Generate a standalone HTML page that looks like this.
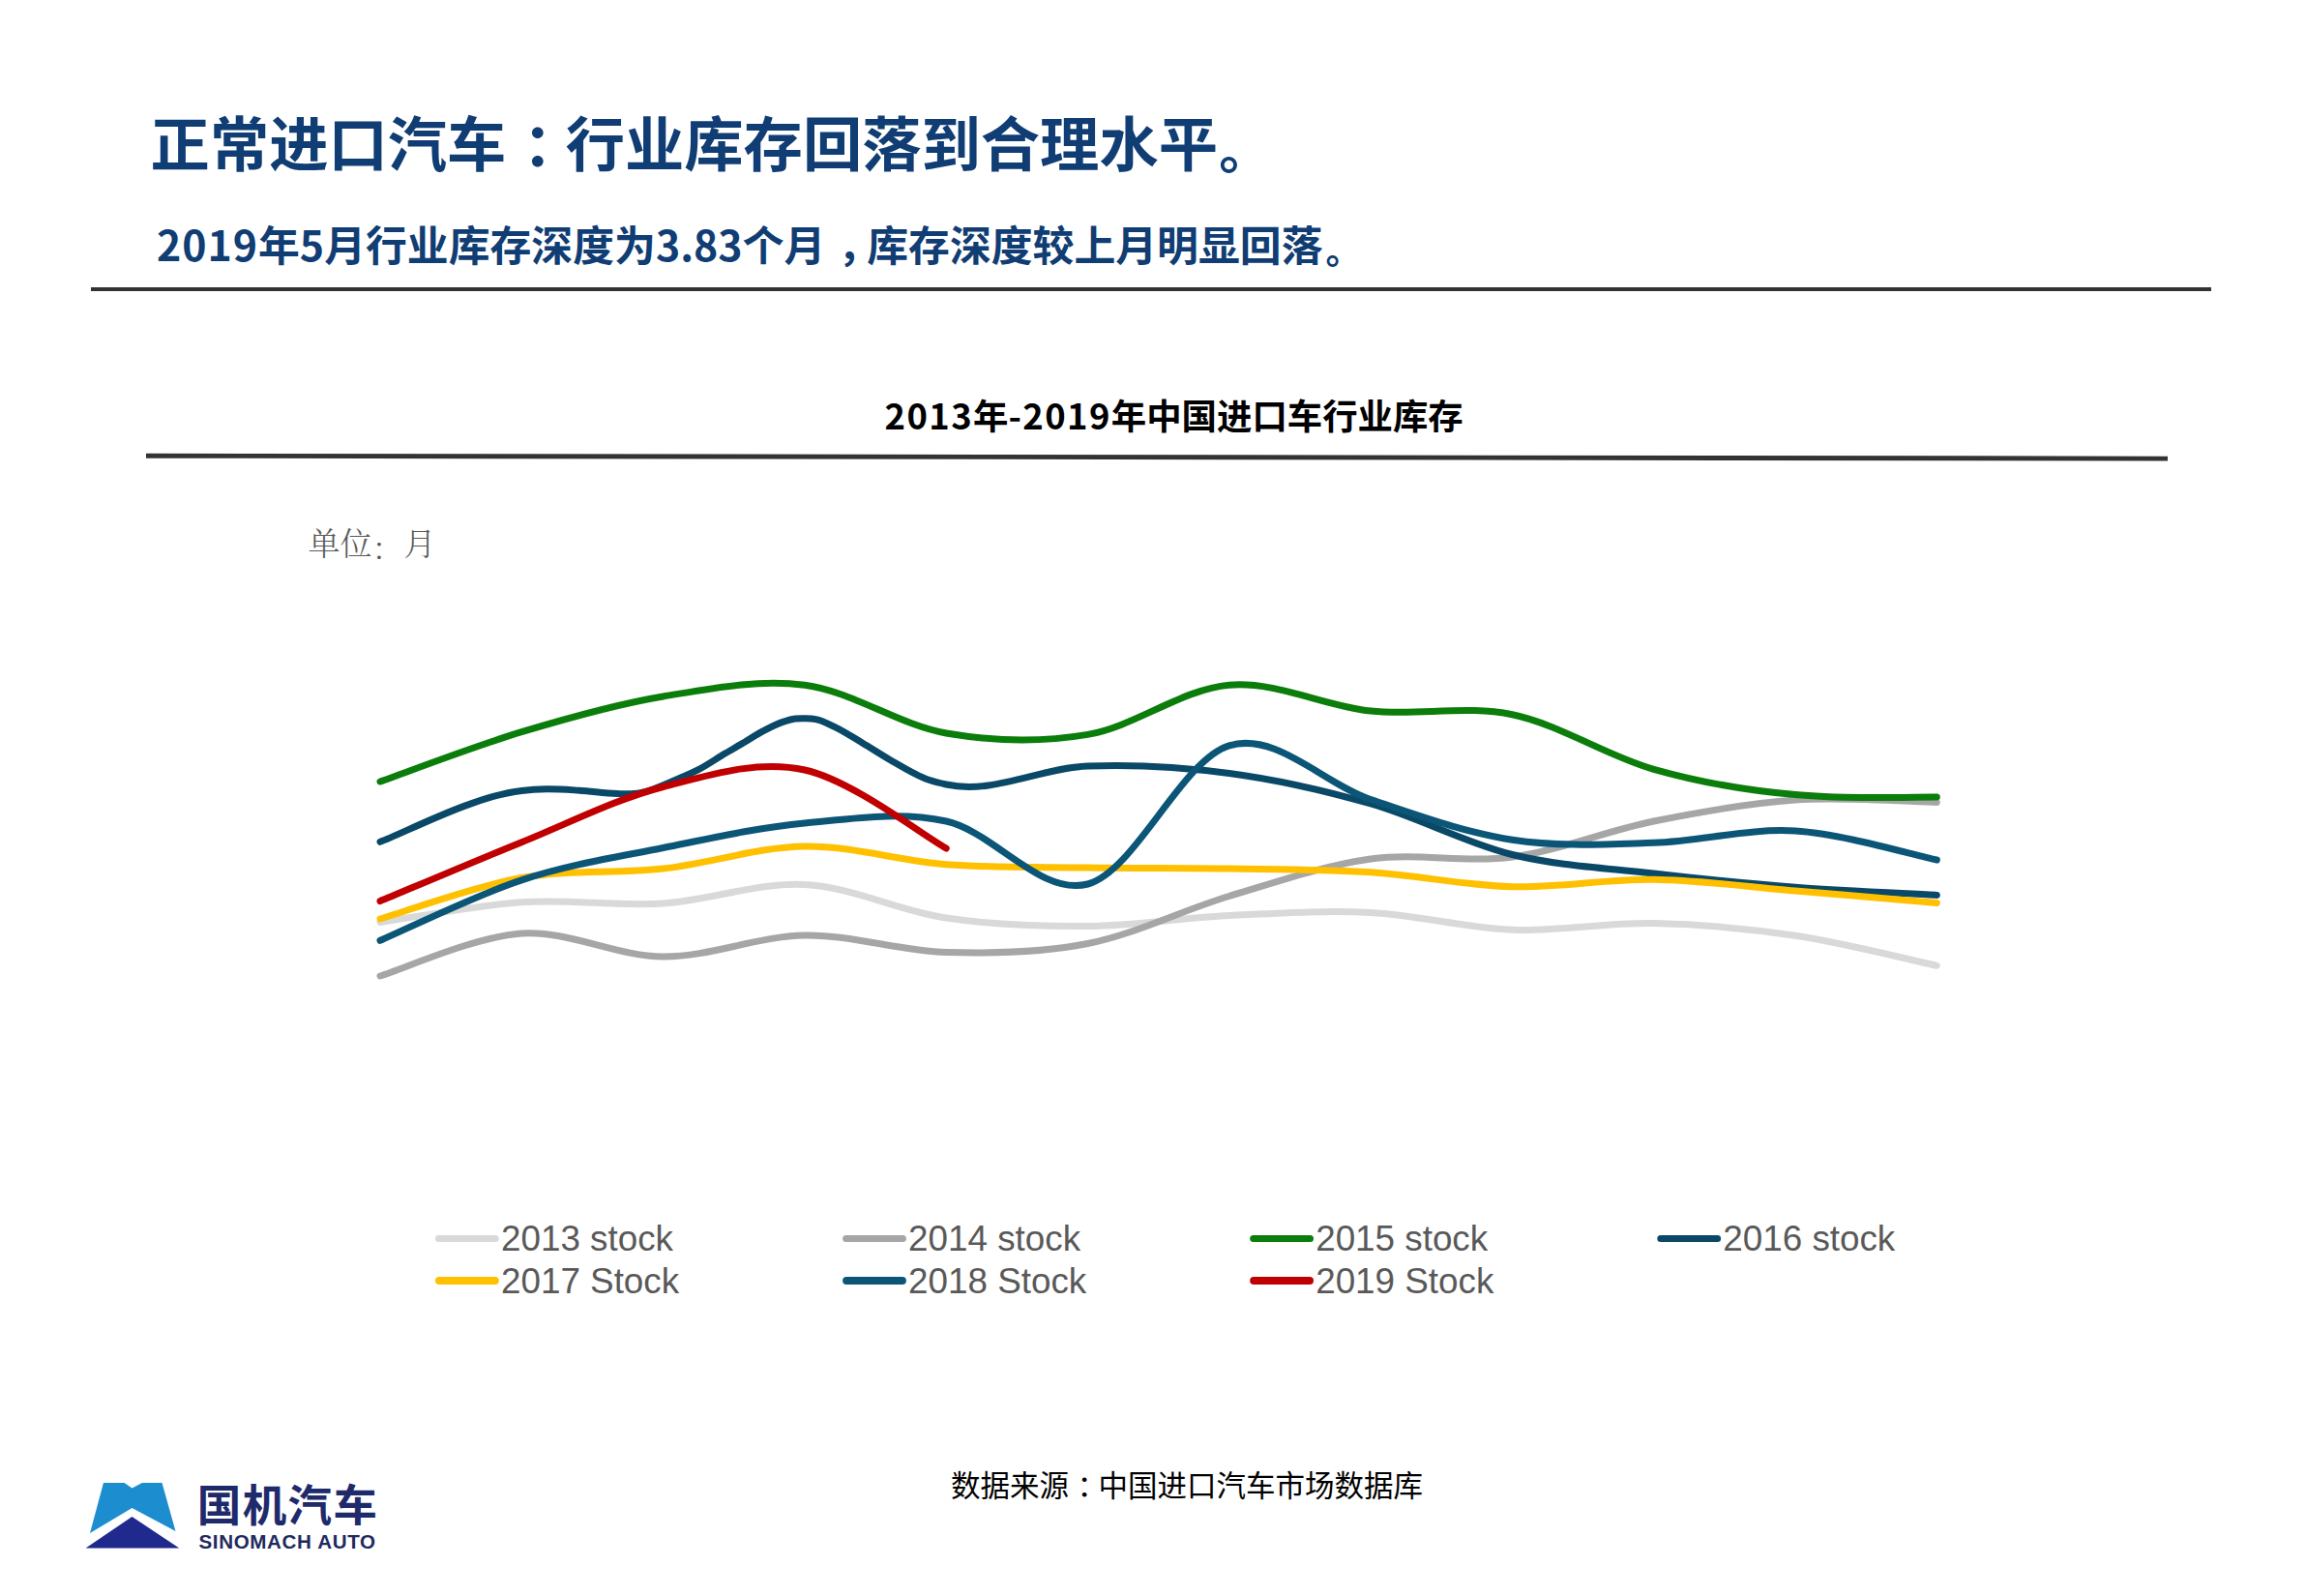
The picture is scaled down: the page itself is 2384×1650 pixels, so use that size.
<!DOCTYPE html>
<html lang="zh-CN">
<head>
<meta charset="utf-8">
<title>正常进口汽车：行业库存回落到合理水平。</title>
<style>
html,body{margin:0;padding:0;background:#fff;}
body{width:2384px;height:1650px;position:relative;overflow:hidden;font-family:"Liberation Sans","Noto Sans CJK SC",sans-serif;}
.abs{position:absolute;white-space:nowrap;line-height:1;}
#title{left:155.6px;top:115px;font-size:61.3px;font-weight:700;color:#103D73;font-family:"Noto Sans CJK SC","Liberation Sans",sans-serif;}
#sub{left:161.9px;top:230.4px;font-size:42.85px;font-weight:700;color:#103D73;font-family:"Noto Sans CJK SC","Liberation Sans",sans-serif;}
#rule1{left:94px;top:297px;width:2192px;height:4px;background:#333;}
#ctitle{left:914.6px;top:409.5px;font-size:36.4px;font-weight:700;color:#000;font-family:"Noto Sans CJK SC","Liberation Sans",sans-serif;}
#unit{left:318.5px;top:547.3px;font-size:33px;font-weight:300;color:#595959;font-family:"Liberation Serif","Noto Serif CJK SC",serif;}
#src{left:983px;top:1519px;font-size:30.5px;color:#000;font-family:"Noto Sans CJK SC","Liberation Sans",sans-serif;}
#brand{left:203.8px;top:1530.5px;font-size:45.5px;font-weight:700;letter-spacing:1.4px;color:#1F2A6B;font-family:"Noto Sans CJK SC","Liberation Sans",sans-serif;}
#brand2{left:205.5px;top:1584px;font-size:20.6px;font-weight:700;letter-spacing:0.62px;color:#1F2A5E;font-family:"Liberation Sans","Noto Sans CJK SC",sans-serif;}
svg{position:absolute;left:0;top:0;}
.d{letter-spacing:1px;}
.d2{letter-spacing:1.4px;}
.p{position:relative;}
</style>
</head>
<body>
<div class="abs" id="title">正常进口汽车<span class="p" style="left:17px">：</span>行业库存回落到合理水平<span class="p" style="left:1.3px;top:2.9px;font-size:0.86em">。</span></div>
<div class="abs" id="sub"><span class="d">2019</span>年5月行业库存深度为3.83个月<span class="p" style="left:13px">，</span>库存深度较上月明显回落<span class="p" style="left:2.9px;top:2.6px;font-size:0.86em">。</span></div>
<div class="abs" id="rule1"></div>
<div class="abs" id="ctitle"><span class="d2">2013</span>年<span class="d2">-2019</span>年中国进口车行业库存</div>

<div class="abs" id="unit">单位<span class="p" style="top:5px">：</span>月</div>
<svg width="2384" height="1650" viewBox="0 0 2384 1650">
<line x1="151" y1="471.2" x2="2241" y2="474.1" stroke="#333" stroke-width="4.9"/>
<g fill="none" stroke-width="7.0" stroke-linecap="round" stroke-linejoin="round">
<path d="M393.0 953.5 C417.4 950.0 490.5 936.0 539.3 932.8 C588.1 929.5 636.8 937.1 685.6 934.0 C734.4 930.9 783.1 911.9 831.9 914.4 C880.7 916.9 929.4 941.8 978.2 949.0 C1027.0 956.2 1075.7 957.9 1124.5 957.5 C1173.3 957.1 1222.0 948.8 1270.8 946.5 C1319.6 944.2 1368.3 941.0 1417.1 943.5 C1465.9 946.0 1514.6 959.4 1563.4 961.3 C1612.2 963.1 1660.9 953.6 1709.7 954.6 C1758.5 955.6 1807.2 960.0 1856.0 967.3 C1904.8 974.6 1977.9 993.1 2002.3 998.3" stroke="#D9D9D9"/>
<path d="M393.0 1009.0 C417.4 1001.7 490.5 968.3 539.3 965.0 C588.1 961.7 636.8 988.7 685.6 989.0 C734.4 989.3 783.1 967.8 831.9 967.0 C880.7 966.2 929.4 983.1 978.2 984.5 C1027.0 985.9 1075.7 985.2 1124.5 975.5 C1173.3 965.8 1222.0 941.1 1270.8 926.5 C1319.6 911.9 1368.3 894.8 1417.1 888.0 C1465.9 881.2 1514.6 892.5 1563.4 886.0 C1612.2 879.5 1660.9 858.8 1709.7 849.0 C1758.5 839.2 1807.2 830.3 1856.0 827.0 C1904.8 823.7 1977.9 829.0 2002.3 829.4" stroke="#A6A6A6"/>
<path d="M393.0 808.0 C417.4 799.5 490.5 771.4 539.3 756.7 C588.1 742.0 636.8 728.1 685.6 720.0 C734.4 711.9 783.1 701.9 831.9 708.2 C880.7 714.5 929.4 749.5 978.2 758.0 C1027.0 766.5 1075.7 767.7 1124.5 759.4 C1173.3 751.1 1222.0 712.3 1270.8 708.2 C1319.6 704.1 1368.3 729.9 1417.1 735.0 C1465.9 740.1 1514.6 728.7 1563.4 738.7 C1612.2 748.8 1660.9 781.5 1709.7 795.3 C1758.5 809.1 1807.2 817.3 1856.0 821.5 C1866.0 822.4 1876.0 823.0 1886.0 823.5 C1924.8 825.6 1982.9 823.9 2002.3 824.0" stroke="#0B7D0B"/>
<path d="M393.0 870.3 C417.4 861.5 490.5 822.6 539.3 817.4 C547.9 816.5 556.4 816.0 565.0 815.8 C576.3 815.6 587.7 816.5 599.0 817.2 C612.0 818.0 625.0 820.1 638.0 820.5 C643.7 820.7 649.3 821.1 655.0 820.6 C671.0 819.3 687.1 811.1 703.1 804.3 C709.3 801.7 715.4 799.1 721.6 795.9 C730.9 791.1 740.1 784.6 749.4 779.1 C755.6 775.4 761.8 772.0 768.0 768.3 C774.6 764.4 781.2 759.9 787.8 756.4 C794.7 752.7 801.6 749.0 808.6 746.6 C813.2 745.0 817.8 743.6 822.4 743.0 C825.9 742.5 829.4 742.6 832.9 742.7 C836.4 742.8 839.8 742.9 843.3 743.6 C850.2 744.9 857.2 748.8 864.1 752.1 C873.3 756.6 882.6 762.7 891.8 768.2 C901.1 773.7 910.3 779.9 919.6 785.2 C933.1 793.0 946.7 801.7 960.2 806.3 C966.2 808.3 972.2 809.7 978.2 811.0 C1027.0 821.6 1075.7 793.9 1124.5 792.0 C1173.3 790.1 1222.0 793.0 1270.8 799.5 C1319.6 806.0 1368.3 817.0 1417.1 831.0 C1465.9 845.0 1514.6 871.5 1563.4 883.5 C1612.2 895.5 1660.9 897.4 1709.7 903.0 C1758.5 908.6 1807.2 913.6 1856.0 917.3 C1904.8 921.0 1977.9 924.0 2002.3 925.4" stroke="#0A4868"/>
<path d="M393.0 950.0 C417.4 942.9 490.5 916.2 539.3 907.5 C588.1 898.8 636.8 903.4 685.6 898.0 C734.4 892.6 783.1 875.7 831.9 875.0 C880.7 874.3 929.4 890.0 978.2 893.7 C1027.0 897.4 1075.7 896.3 1124.5 897.0 C1173.3 897.7 1222.0 897.2 1270.8 898.0 C1319.6 898.8 1368.3 898.7 1417.1 901.8 C1465.9 904.9 1514.6 915.5 1563.4 916.7 C1612.2 918.0 1660.9 908.6 1709.7 909.3 C1758.5 910.0 1807.2 917.0 1856.0 921.0 C1904.8 925.0 1977.9 931.4 2002.3 933.5" stroke="#FFC000"/>
<path d="M393.0 972.3 C417.4 961.9 490.5 925.8 539.3 909.8 C588.1 893.8 636.8 886.3 685.6 876.5 C734.4 866.7 783.1 855.6 831.9 851.0 C880.7 846.4 929.4 838.5 978.2 849.0 C1027.0 859.5 1075.7 927.0 1124.5 914.0 C1173.3 901.0 1222.0 785.4 1270.8 770.8 C1319.6 756.2 1368.3 810.2 1417.1 826.5 C1465.9 842.8 1514.6 860.8 1563.4 868.3 C1612.2 875.8 1660.9 872.8 1709.7 871.3 C1758.5 869.8 1807.2 856.0 1856.0 859.0 C1904.8 862.0 1977.9 884.0 2002.3 889.0" stroke="#0B5577"/>
<path d="M393.0 931.6 C417.4 921.5 490.5 890.4 539.3 870.7 C588.1 851.0 636.8 826.0 685.6 813.5 C734.4 801.0 783.1 785.4 831.9 796.0 C880.7 806.6 953.8 863.5 978.2 877.0" stroke="#C00000"/>
</g>
<g stroke-width="7.2" stroke-linecap="round" font-family="'Liberation Sans',sans-serif" font-size="36.8" fill="#595959">
<line x1="453.5" y1="1280.5" x2="512.3" y2="1280.5" stroke="#D9D9D9" stroke-width="7.0"/>
<text x="518.0" y="1292.8">2013 stock</text>
<line x1="874.6" y1="1280.5" x2="933.4" y2="1280.5" stroke="#A6A6A6" stroke-width="7.0"/>
<text x="939.1" y="1292.8">2014 stock</text>
<line x1="1295.7" y1="1280.5" x2="1354.5" y2="1280.5" stroke="#0B7D0B" stroke-width="7.0"/>
<text x="1360.2" y="1292.8">2015 stock</text>
<line x1="1716.8" y1="1280.5" x2="1775.6" y2="1280.5" stroke="#0A4868" stroke-width="7.0"/>
<text x="1781.3" y="1292.8">2016 stock</text>
<line x1="454.0" y1="1324.0" x2="511.8" y2="1324.0" stroke="#FFC000" stroke-width="8.0"/>
<text x="518.0" y="1337.0">2017 Stock</text>
<line x1="875.1" y1="1324.0" x2="932.9" y2="1324.0" stroke="#0B5577" stroke-width="8.0"/>
<text x="939.1" y="1337.0">2018 Stock</text>
<line x1="1296.2" y1="1324.0" x2="1354.0" y2="1324.0" stroke="#C00000" stroke-width="8.0"/>
<text x="1360.2" y="1337.0">2019 Stock</text>
</g>
<g id="logo">
<polygon points="107,1533 128.5,1533 136.5,1538.5 147,1533 167.5,1533 181.5,1583 136.5,1559 93,1585" fill="#1C8DCE"/>
<polygon points="136.5,1568 185.3,1600.6 88.6,1600.6" fill="#1F2A8C"/>
</g>
</svg>
<div class="abs" id="brand">国机汽车</div>
<div class="abs" id="brand2">SINOMACH AUTO</div>
<div class="abs" id="src">数据来源<span class="p" style="left:8.5px">：</span>中国进口汽车市场数据库</div>
</body>
</html>
